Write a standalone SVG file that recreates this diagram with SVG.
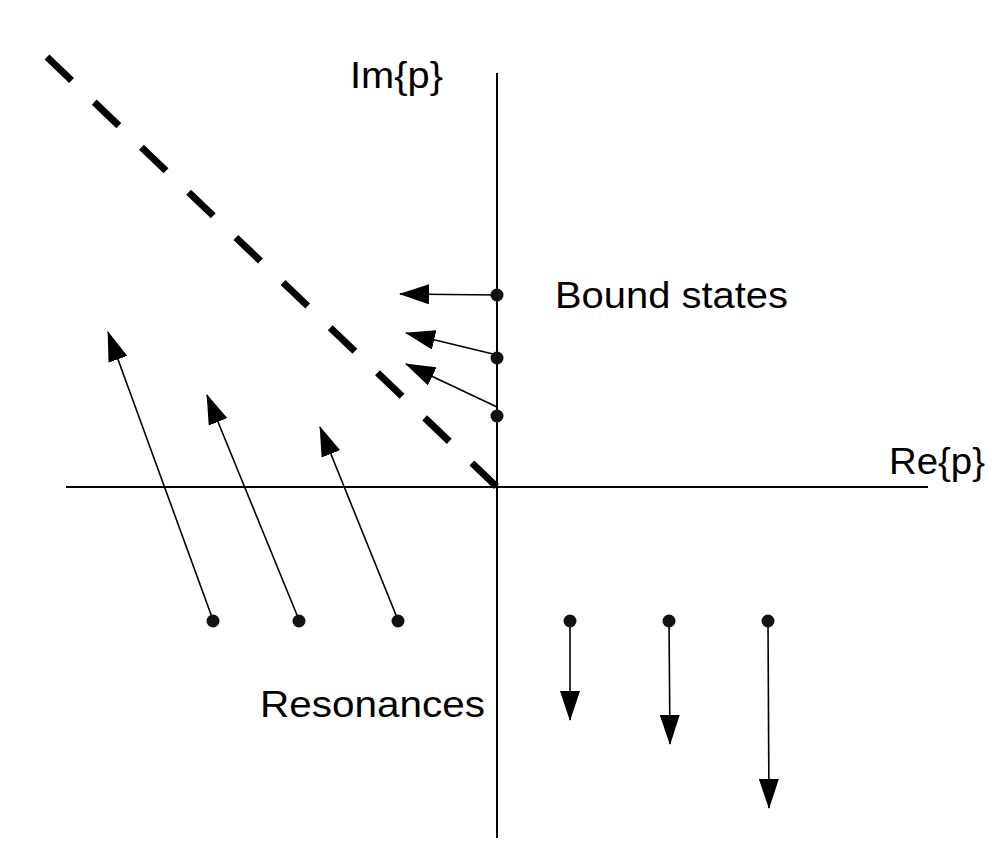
<svg xmlns="http://www.w3.org/2000/svg" width="1000" height="860" viewBox="0 0 1000 860">
<style>
.axis{stroke:#000;stroke-width:2;fill:none}
.arr{stroke:#000;stroke-width:1.6;fill:none;marker-end:url(#ah)}
.dash{stroke:#000;stroke-width:7;fill:none;stroke-dasharray:34 31.3}
.dot{fill:#111}
.lbl{font-family:"Liberation Sans",Arial,Helvetica,sans-serif;font-size:36px;fill:#000}
</style>
<defs>
<marker id="ah" viewBox="0 0 30 20" refX="29" refY="10" markerWidth="30" markerHeight="20" markerUnits="userSpaceOnUse" orient="auto">
<path d="M0,0 L30,10 L0,20 Z" fill="#000"/>
</marker>
</defs>
<rect width="1000" height="860" fill="#fff"/>
<g id="axes">
<line class="axis" x1="497" y1="73" x2="497" y2="838"/>
<line class="axis" x1="66" y1="487" x2="928" y2="487"/>
<line class="dash" x1="47" y1="57" x2="497" y2="487"/>
</g>
<g id="connectors">
<line class="arr" x1="497" y1="295" x2="400" y2="294"/>
<line class="arr" x1="493" y1="354" x2="406" y2="333"/>
<line class="arr" x1="497" y1="407" x2="406" y2="364"/>
<line class="arr" x1="213" y1="620" x2="108" y2="332"/>
<line class="arr" x1="299" y1="620" x2="207" y2="395"/>
<line class="arr" x1="398" y1="620" x2="320" y2="427"/>
<line class="arr" x1="570" y1="621" x2="570" y2="720"/>
<line class="arr" x1="669" y1="621" x2="670" y2="744"/>
<line class="arr" x1="768" y1="621" x2="769" y2="808"/>
</g>
<g id="bound1"><circle class="dot" cx="497" cy="295" r="6.5"/></g>
<g id="bound2"><circle class="dot" cx="497" cy="358" r="6.5"/></g>
<g id="bound3"><circle class="dot" cx="497" cy="416" r="6.5"/></g>
<g id="res1"><circle class="dot" cx="213" cy="621" r="6.5"/></g>
<g id="res2"><circle class="dot" cx="299" cy="621" r="6.5"/></g>
<g id="res3"><circle class="dot" cx="398" cy="621" r="6.5"/></g>
<g id="res4"><circle class="dot" cx="570" cy="621" r="6.5"/></g>
<g id="res5"><circle class="dot" cx="669" cy="621" r="6.5"/></g>
<g id="res6"><circle class="dot" cx="768" cy="621" r="6.5"/></g>
<g id="label-im"><text class="lbl" x="350" y="88" textLength="93" lengthAdjust="spacingAndGlyphs">Im{p}</text></g>
<g id="label-re"><text class="lbl" x="889" y="474" textLength="96" lengthAdjust="spacingAndGlyphs">Re{p}</text></g>
<g id="label-bound"><text class="lbl" x="555" y="308" textLength="233" lengthAdjust="spacingAndGlyphs">Bound states</text></g>
<g id="label-res"><text class="lbl" x="260" y="717" textLength="225" lengthAdjust="spacingAndGlyphs">Resonances</text></g>
</svg>
